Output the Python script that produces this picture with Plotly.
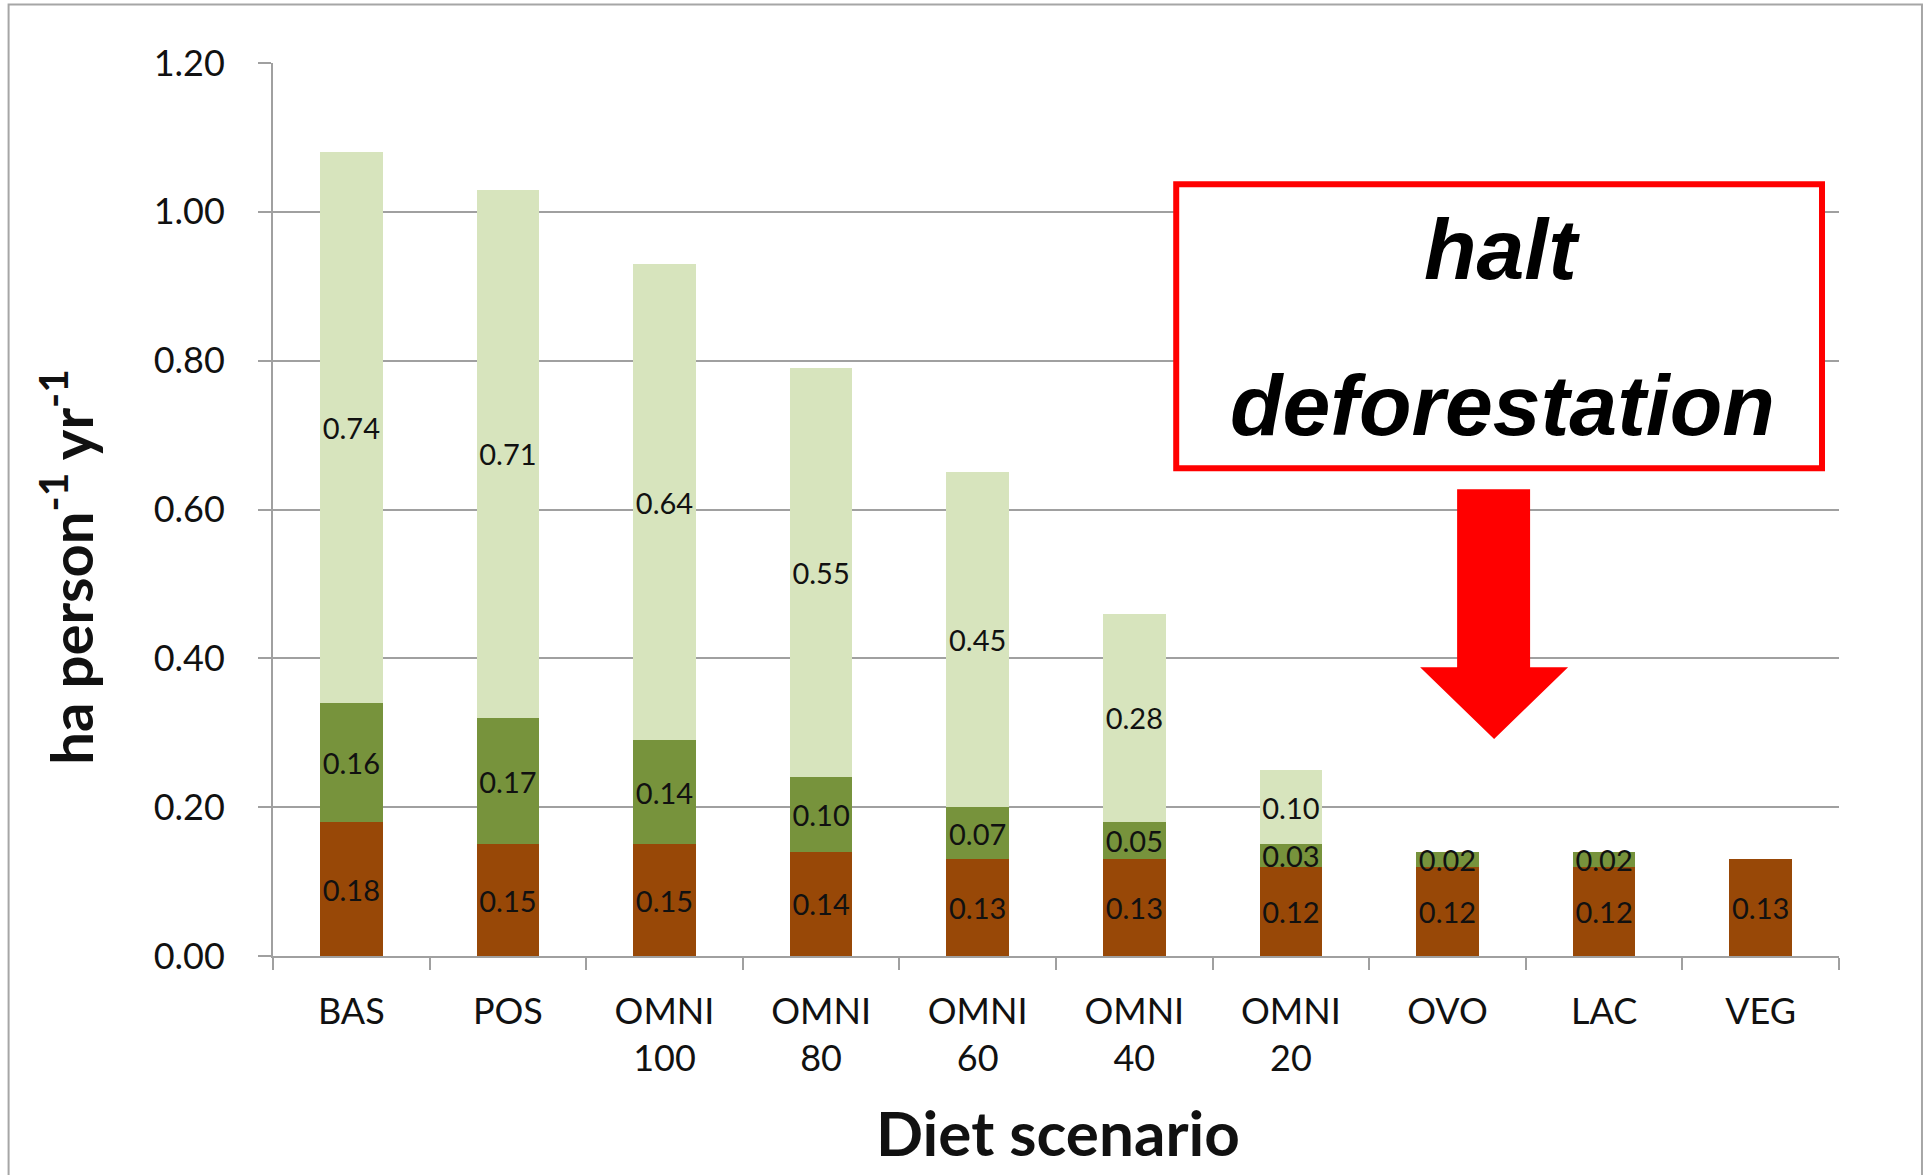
import plotly.graph_objects as go

# Diet scenarios (x categories) and the land requirement of each component
scenarios = ["BAS", "POS", "OMNI<br>100", "OMNI<br>80", "OMNI<br>60",
             "OMNI<br>40", "OMNI<br>20", "OVO", "LAC", "VEG"]
arable = [0.18, 0.15, 0.15, 0.14, 0.13, 0.13, 0.12, 0.12, 0.12, 0.13]
grassland_improved = [0.16, 0.17, 0.14, 0.10, 0.07, 0.05, 0.03, 0.02, 0.02, None]
grassland_extensive = [0.74, 0.71, 0.64, 0.55, 0.45, 0.28, 0.10, None, None, None]

y_ticks = [0.0, 0.2, 0.4, 0.6, 0.8, 1.0, 1.2]

series = [
    ("Arable", arable, "#984807"),
    ("Improved grassland", grassland_improved, "#77933C"),
    ("Extensive grassland", grassland_extensive, "#D7E4BD"),
]

W, H = 1925, 1175
L, R, T, B = 272.5, 86, 62.6, 219


def px(x):
    return (x - L) / (W - L - R)


def py(y):
    return (H - B - y) / (H - T - B)


fig = go.Figure()
for name, vals, color in series:
    # only scenarios where this component exists get a segment
    xs = [s for s, v in zip(scenarios, vals) if v is not None]
    ys = [v for v in vals if v is not None]
    fig.add_trace(go.Bar(
        x=xs, y=ys, name=name,
        marker=dict(color=color, line=dict(width=0)),
        text=[f"{v:.2f}" for v in ys],
        textposition="inside", insidetextanchor="middle",
        constraintext="none", textangle=0,
        textfont=dict(family="Lato", size=29, color="#111111"),
        hoverinfo="skip",
    ))

fig.update_layout(
    width=W, height=H, barmode="stack", bargap=0.6,
    margin=dict(l=L, r=R, t=T, b=B),
    paper_bgcolor="white", plot_bgcolor="white",
    showlegend=False,
    font=dict(family="Lato", color="#111111"),
)

fig.update_xaxes(
    type="category", categoryorder="array", categoryarray=scenarios,
    range=[-0.5, 9.5],
    showline=True, linecolor="#A0A0A0", linewidth=2,
    ticks="outside", tickson="boundaries", ticklen=12, tickwidth=2,
    tickcolor="#A0A0A0", ticklabelstandoff=23,
    tickfont=dict(family="Lato", size=36, color="#111111"),
    showgrid=False,
)
fig.update_yaxes(
    range=[0, 1.2], tickvals=y_ticks, tickformat=".2f",
    showline=True, linecolor="#A0A0A0", linewidth=2,
    ticks="outside", ticklen=13, tickwidth=2, tickcolor="#A0A0A0",
    ticklabelstandoff=26,
    tickfont=dict(family="Lato", size=36, color="#111111"),
    showgrid=True, gridcolor="#A0A0A0", gridwidth=2, zeroline=False,
)

# axis titles
fig.add_annotation(
    text="Diet scenario", xref="paper", yref="paper",
    x=px(1058), y=py(1132), xanchor="center", yanchor="middle",
    showarrow=False, font=dict(family="Lato", size=62, weight="bold", color="#111111"),
)
fig.add_annotation(
    text="ha person<sup>-1</sup> yr<sup>-1</sup>", xref="paper", yref="paper",
    x=px(66), y=py(567), xanchor="center", yanchor="middle", textangle=-90,
    showarrow=False, font=dict(family="Lato", size=58, weight="bold", color="#111111"),
)

# outer chart border
fig.add_shape(type="rect", xref="paper", yref="paper",
              x0=px(8), x1=px(1922), y0=py(1185), y1=py(4),
              line=dict(color="#A6A6A6", width=2), fillcolor="rgba(0,0,0,0)",
              layer="below")

# call-out box and arrow
fig.add_shape(type="rect", xref="paper", yref="paper",
              x0=px(1176), x1=px(1822), y0=py(468), y1=py(184),
              line=dict(color="#FF0000", width=6), fillcolor="white")
arrow = [(1457, 489), (1530, 489), (1530, 667), (1568, 667), (1494, 739),
         (1420, 667), (1457, 667)]
path = "M " + " L ".join(f"{px(a):.5f},{py(b):.5f}" for a, b in arrow) + " Z"
fig.add_shape(type="path", xref="paper", yref="paper", path=path,
              fillcolor="#FF0000", line=dict(width=0))

for txt, yc in [("halt", 249), ("deforestation", 405)]:
    fig.add_annotation(
        text=txt, xref="paper", yref="paper", x=px(1502), y=py(yc),
        xanchor="center", yanchor="middle", showarrow=False,
        font=dict(family="Liberation Sans", size=86, weight="bold",
                  style="italic", color="black"),
    )

fig.write_html("out.html")
